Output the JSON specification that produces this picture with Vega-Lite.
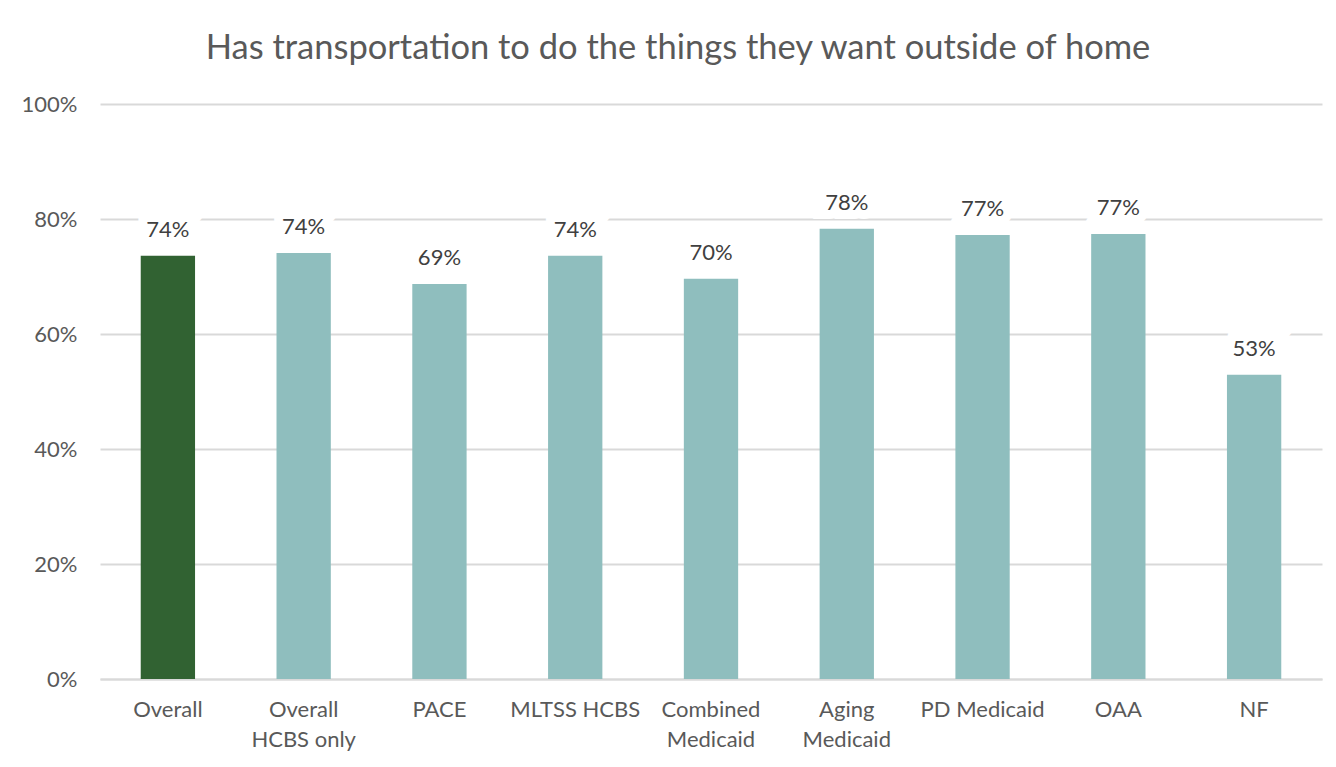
{
  "$schema": "https://vega.github.io/schema/vega-lite/v6.json",
  "autosize": "none",
  "width": 1222,
  "height": 575,
  "padding": {"left": 100, "top": 104, "right": 14, "bottom": 88},
  "background": "white",
  "config": {
    "font": "Lato",
    "view": {"stroke": null},
    "axis": {"labelFont": "Lato", "labelColor": "#595959", "labelFontSize": 22, "titleFont": "Lato"}
  },
  "title": {
    "text": "Has transportation to do the things they want outside of home",
    "font": "Lato",
    "fontSize": 34.5,
    "fontWeight": "normal",
    "color": "#595959",
    "anchor": "middle",
    "dx": -33,
    "offset": 27
  },
  "data": {
    "values": [
      {"group": "Overall", "value": 0.736, "kind": "overall"},
      {"group": "Overall HCBS only", "value": 0.741, "kind": "sub"},
      {"group": "PACE", "value": 0.687, "kind": "sub"},
      {"group": "MLTSS HCBS", "value": 0.736, "kind": "sub"},
      {"group": "Combined Medicaid", "value": 0.696, "kind": "sub"},
      {"group": "Aging Medicaid", "value": 0.783, "kind": "sub"},
      {"group": "PD Medicaid", "value": 0.772, "kind": "sub"},
      {"group": "OAA", "value": 0.774, "kind": "sub"},
      {"group": "NF", "value": 0.529, "kind": "sub"}
    ]
  },
  "encoding": {
    "x": {
      "field": "group",
      "type": "nominal",
      "sort": null,
      "scale": {"paddingInner": 0.6, "paddingOuter": 0.3},
      "axis": {
        "title": null,
        "labelAngle": 0,
        "ticks": false,
        "domainColor": "#d9d9d9",
        "domainWidth": 2,
        "labelPadding": 20,
        "labelLineHeight": 30,
        "labelExpr": "datum.value == 'Overall HCBS only' ? ['Overall','HCBS only'] : datum.value == 'Combined Medicaid' ? ['Combined','Medicaid'] : datum.value == 'Aging Medicaid' ? ['Aging','Medicaid'] : datum.value"
      }
    },
    "y": {
      "field": "value",
      "type": "quantitative",
      "scale": {"domain": [0, 1], "nice": false},
      "axis": {
        "title": null,
        "format": ".0%",
        "values": [0, 0.2, 0.4, 0.6, 0.8, 1.0],
        "domain": false,
        "ticks": false,
        "labelPadding": 23,
        "gridColor": "#d9d9d9",
        "gridWidth": 2
      }
    }
  },
  "layer": [
    {
      "mark": {"type": "bar"},
      "encoding": {
        "color": {
          "field": "kind",
          "type": "nominal",
          "scale": {"domain": ["overall", "sub"], "range": ["#316232", "#8FBEBE"]},
          "legend": null
        }
      }
    },
    {
      "mark": {"type": "text", "baseline": "alphabetic", "dy": -19, "fontSize": 22, "fill": "white", "stroke": "white", "strokeWidth": 18, "strokeJoin": "miter"},
      "encoding": {"text": {"field": "value", "format": ".0%"}}
    },
    {
      "mark": {"type": "text", "baseline": "alphabetic", "dy": -19, "fontSize": 22, "color": "#404040"},
      "encoding": {"text": {"field": "value", "format": ".0%"}}
    }
  ]
}
